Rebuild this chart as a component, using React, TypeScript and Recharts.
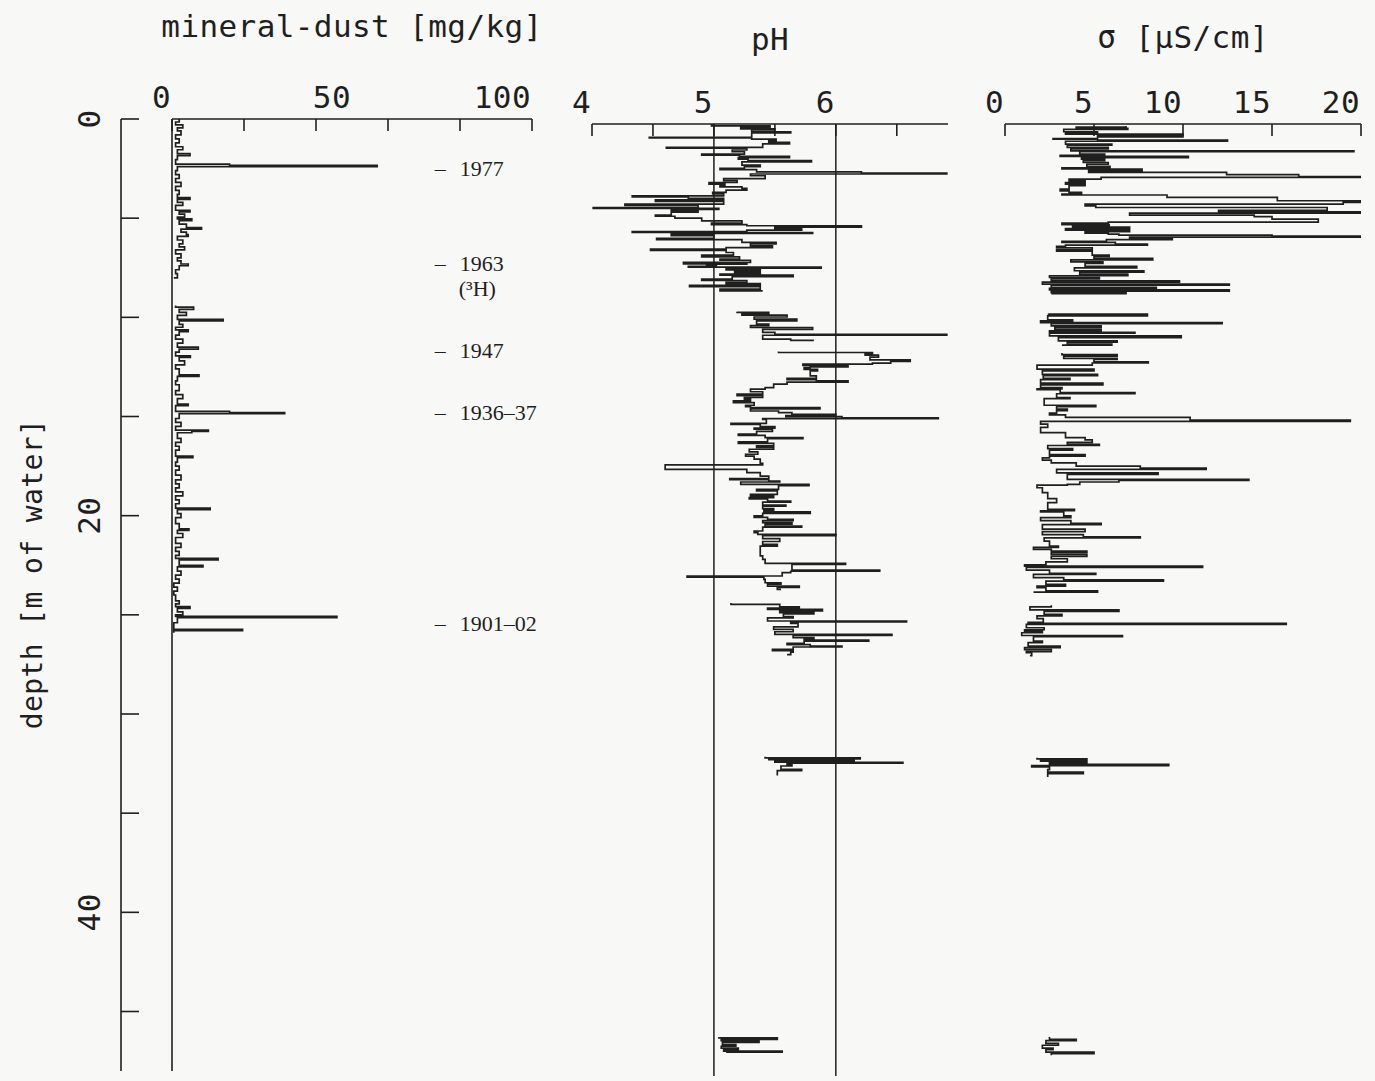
import React from "react";
import {
  LineChart,
  Line,
  XAxis,
  YAxis,
  ReferenceLine,
  ReferenceDot,
} from "recharts";

// [depth in m of water, value]; null marks a stretch of core with no samples
type Sample = [number, number | null];

const dustProfile: Sample[] = [
  [0, 2], [0.15, 1], [0.3, 3], [0.45, 1.5], [0.6, 2.5], [0.8, 1], [1.0, 2], [1.2, 1],
  [1.4, 3], [1.55, 1.5], [1.75, 5], [1.85, 1.5], [2.05, 1], [2.28, 16], [2.34, 57], [2.4, 1.5],
  [2.6, 1], [2.8, 2], [3.0, 1], [3.2, 2.5], [3.4, 1], [3.6, 2], [3.8, 1.5], [3.96, 5],
  [4.05, 1.5], [4.2, 3], [4.35, 1], [4.6, 5], [4.68, 2], [4.8, 3.5], [4.95, 1.5], [5.04, 5.5],
  [5.12, 2], [5.3, 4], [5.48, 8.2], [5.55, 2.5], [5.7, 4], [5.83, 4.5], [5.92, 1.5], [6.1, 3],
  [6.3, 2], [6.45, 3.5], [6.6, 1], [6.8, 2.5], [7.0, 1.5], [7.15, 2.5], [7.31, 4.5], [7.4, 2],
  [7.6, 1], [7.8, 1.5], [8.01, 0.5], [8.1, null],
  [9.4, 1], [9.49, 6], [9.6, 2], [9.75, 4], [9.9, 1.5], [10.1, 14.2], [10.18, 2], [10.35, 3],
  [10.5, 1], [10.63, 4.5], [10.72, 2], [10.9, 1], [11.1, 3], [11.3, 1.5], [11.5, 7.3], [11.6, 2],
  [11.75, 1], [11.94, 5.1], [12.02, 2], [12.2, 3.5], [12.4, 1], [12.6, 2], [12.9, 7.5], [12.98, 1.5],
  [13.2, 1], [13.4, 2], [13.7, 1], [13.9, 3], [14.1, 1.5], [14.38, 4.5], [14.45, 1], [14.74, 16],
  [14.8, 31.3], [14.86, 2], [15.1, 1], [15.3, 2.5], [15.5, 1], [15.69, 10.1], [15.75, 5.5], [15.82, 1.5],
  [16.1, 2.5], [16.3, 1], [16.5, 2], [16.7, 1], [17.0, 5.8], [17.08, 1.5], [17.3, 1], [17.5, 2],
  [17.7, 1], [17.96, 2.5], [18.2, 1], [18.4, 2], [18.6, 1], [18.8, 3], [19.0, 1], [19.2, 2],
  [19.4, 1], [19.62, 10.6], [19.7, 1.5], [19.9, 2.5], [20.1, 1], [20.4, 2], [20.66, 4.7], [20.74, 1.5],
  [20.9, 3], [21.1, 1], [21.4, 2.5], [21.6, 1], [21.8, 2], [22.0, 1], [22.15, 12.8], [22.23, 2],
  [22.5, 8.6], [22.58, 1.5], [22.8, 2.5], [23.0, 1], [23.2, 2], [23.4, 0.5], [23.6, 1.5], [23.8, 0.5],
  [24.0, 1], [24.3, 2], [24.45, 1], [24.59, 5], [24.67, 1.5], [24.85, 3], [25.0, 1], [25.08, 45.8],
  [25.14, 1.5], [25.4, 0.5], [25.73, 19.6], [25.8, 0.5], [25.9, 0.5],
];

const phProfile: Sample[] = [
  [0.25, 5.0], [0.3, 4.98], [0.34, 5.46], [0.42, 5.22], [0.5, 5.5], [0.55, 5.31], [0.64, 5.63], [0.7, 5.31],
  [0.92, 4.47], [0.95, 5.31], [1.01, 5.51], [1.1, 5.45], [1.18, 5.62], [1.25, 5.4], [1.43, 4.61], [1.47, 5.27],
  [1.56, 5.15], [1.65, 5.25], [1.77, 4.9], [1.82, 5.21], [1.88, 5.62], [1.95, 5.2], [2.02, 5.28], [2.1, 5.8],
  [2.16, 5.23], [2.32, 5.38], [2.4, 5.25], [2.49, 5.05], [2.55, 5.35], [2.66, 6.21], [2.72, 6.91], [2.77, 5.3],
  [2.86, 5.42], [3.0, 5.08], [3.1, 5.19], [3.2, 4.96], [3.28, 5.09], [3.36, 5.05], [3.42, 5.23], [3.5, 5.27],
  [3.58, 5.1], [3.7, 4.99], [3.78, 5.08], [3.87, 4.33], [3.92, 4.79], [4.0, 5.08], [4.07, 4.52], [4.15, 5.08],
  [4.29, 4.27], [4.36, 4.87], [4.46, 4.01], [4.5, 5.04], [4.56, 4.65], [4.62, 4.87], [4.7, 4.65], [4.84, 4.52],
  [4.9, 4.68], [5.0, 4.9], [5.13, 5.23], [5.25, 4.98], [5.32, 5.27], [5.38, 6.21], [5.45, 5.5], [5.52, 5.72],
  [5.6, 5.27], [5.68, 4.33], [5.72, 5.81], [5.76, 5.0], [5.8, 4.65], [5.88, 5.0], [6.02, 4.53], [6.08, 5.23],
  [6.22, 5.51], [6.3, 5.3], [6.39, 5.48], [6.48, 5.1], [6.56, 4.48], [6.62, 5.1], [6.73, 5.16], [6.86, 4.9],
  [6.95, 5.21], [7.06, 5.05], [7.12, 5.3], [7.23, 4.75], [7.3, 5.27], [7.32, 4.94], [7.38, 5.02], [7.43, 4.79],
  [7.47, 5.88], [7.52, 5.1], [7.6, 5.38], [7.68, 5.17], [7.74, 5.38], [7.82, 5.05], [7.87, 5.65], [7.95, 5.15],
  [8.07, 4.9], [8.14, 5.27], [8.24, 5.1], [8.3, 5.38], [8.38, 4.8], [8.45, 5.38], [8.58, 5.05], [8.66, 5.4],
  [8.72, null],
  [9.72, 5.19], [9.75, 5.45], [9.82, 5.23], [9.89, 5.6], [9.98, 5.33], [10.09, 5.68], [10.18, 5.35], [10.34, 5.45],
  [10.42, 5.3], [10.51, 5.81], [10.6, 5.4], [10.76, 5.5], [10.85, 6.91], [10.9, 5.4], [11.1, 5.63], [11.16, 5.82],
  [11.22, null],
  [11.72, 5.53], [11.77, 6.3], [11.82, 6.24], [11.9, 6.35], [12.0, 6.28], [12.14, 6.61], [12.22, 6.45], [12.31, 6.3],
  [12.36, 5.73], [12.42, 6.1], [12.5, 5.79], [12.53, 5.74], [12.62, 5.85], [12.7, 5.79], [12.95, 5.84], [13.08, 5.6],
  [13.14, 5.84], [13.2, 6.1], [13.26, 5.6], [13.37, 5.49], [13.54, 5.42], [13.62, 5.3], [13.75, 5.4], [13.87, 5.19],
  [13.95, 5.4], [14.04, 5.25], [14.12, 5.3], [14.21, 5.16], [14.3, 5.33], [14.43, 5.26], [14.5, 5.3], [14.55, 5.87],
  [14.62, 5.3], [14.72, 5.53], [14.8, 5.64], [14.89, 6.0], [14.95, 5.59], [15.0, 6.05], [15.06, 6.84], [15.1, 5.4],
  [15.14, 5.43], [15.34, 5.14], [15.4, 5.38], [15.51, 5.5], [15.58, 5.33], [15.64, 5.48], [15.75, 5.35], [15.89, 5.2],
  [15.95, 5.42], [16.06, 5.73], [16.12, 5.44], [16.28, 5.2], [16.35, 5.49], [16.48, 5.35], [16.55, 5.49], [16.65, 5.29],
  [16.78, 5.36], [16.9, 5.26], [17.0, 5.33], [17.15, 5.38], [17.36, 5.4], [17.44, 4.6], [17.66, 5.27], [17.83, 5.38],
  [18.0, 5.45], [18.13, 5.13], [18.18, 5.45], [18.25, 5.54], [18.3, 5.22], [18.42, 5.78], [18.48, 5.53], [18.67, 5.35],
  [18.75, 5.52], [18.92, 5.3], [19.0, 5.49], [19.09, 5.29], [19.15, 5.44], [19.26, 5.63], [19.32, 5.4], [19.47, 5.59],
  [19.52, 5.4], [19.64, 5.49], [19.72, 5.41], [19.81, 5.79], [19.88, 5.4], [20.01, 5.33], [20.08, 5.44], [20.18, 5.65],
  [20.25, 5.4], [20.35, 5.64], [20.42, 5.42], [20.52, 5.72], [20.58, 5.4], [20.77, 5.33], [20.85, 5.36], [20.94, 6.0],
  [21.0, 5.4], [21.16, 5.54], [21.3, 5.4], [21.45, 5.52], [21.53, 5.38], [21.86, 5.38], [22.03, 5.4], [22.2, 5.42],
  [22.4, 6.08], [22.46, 5.64], [22.74, 6.36], [22.8, 5.63], [22.87, 5.56], [23.04, 4.78], [23.1, 5.41], [23.21, 5.42],
  [23.38, 5.55], [23.45, 5.44], [23.55, 5.7], [23.62, 5.52], [23.71, 5.55], [23.78, null],
  [24.4, 5.14], [24.47, 5.54], [24.59, 5.7], [24.66, 5.44], [24.72, 5.89], [24.8, 5.54], [24.89, 5.82], [24.95, 5.57],
  [25.09, 5.65], [25.15, 5.44], [25.31, 6.58], [25.36, 5.63], [25.43, 5.69], [25.6, 5.49], [25.73, 5.65], [25.85, 5.5],
  [25.98, 6.46], [26.03, 5.65], [26.15, 5.82], [26.2, 5.74], [26.27, 6.27], [26.33, 5.74], [26.44, 5.6], [26.5, 5.79],
  [26.57, 6.05], [26.62, 5.65], [26.74, 5.48], [26.8, 5.65], [26.88, 5.63], [27.0, 5.6], [27.05, null],
  [32.15, 5.42], [32.21, 6.2], [32.26, 5.45], [32.3, 6.15], [32.36, 5.5], [32.43, 6.55], [32.48, 5.6], [32.54, 5.64],
  [32.62, 5.55], [32.79, 5.72], [32.85, 5.52], [33.1, 5.52], [33.15, null],
  [46.3, 5.04], [46.33, 5.52], [46.4, 5.06], [46.47, 5.37], [46.55, 5.07], [46.67, 5.18], [46.75, 5.06], [46.84, 5.2],
  [46.92, 5.08], [47.0, 5.56], [47.05, 5.1],
];

const sigmaProfile: Sample[] = [
  [0.35, 6.8], [0.4, 4.0], [0.47, 6.9], [0.52, 3.3], [0.64, 5.2], [0.7, 3.4], [0.76, 10.0], [0.8, 5.2],
  [0.84, 10.0], [0.9, 5.2], [0.98, 2.7], [1.02, 5.2], [1.06, 12.5], [1.12, 3.4], [1.26, 6.0], [1.32, 3.5],
  [1.43, 5.8], [1.5, 3.7], [1.6, 19.6], [1.65, 4.2], [1.77, 5.6], [1.83, 3.1], [1.88, 10.3], [1.95, 4.3],
  [2.02, 5.6], [2.1, 4.4], [2.19, 5.8], [2.28, 4.6], [2.39, 5.9], [2.46, 3.2], [2.52, 7.7], [2.6, 4.7],
  [2.69, 12.45], [2.8, 16.5], [2.9, 20], [2.94, 5.4], [3.03, 3.6], [3.12, 4.5], [3.2, 3.4], [3.28, 4.5],
  [3.36, 3.6], [3.53, 3.1], [3.62, 3.6], [3.7, 4.3], [3.78, 3.2], [3.83, 9.1], [3.95, 15.3], [4.12, 20],
  [4.2, 19.0], [4.29, 4.5], [4.38, 5.1], [4.46, 18.1], [4.6, 12.0], [4.68, 20], [4.74, 7.0], [4.84, 14.0],
  [4.92, 15.0], [5.05, 17.6], [5.2, 5.8], [5.25, 3.2], [5.32, 5.85], [5.38, 3.8], [5.45, 7.0], [5.52, 3.4],
  [5.6, 7.0], [5.68, 4.5], [5.75, 5.8], [5.8, 6.4], [5.85, 15.0], [5.9, 20], [5.95, 7.0], [6.02, 9.4],
  [6.08, 5.7], [6.17, 3.2], [6.22, 6.2], [6.31, 8.0], [6.36, 3.4], [6.42, 2.9], [6.5, 4.9], [6.59, 2.9],
  [6.66, 4.9], [6.86, 5.85], [6.93, 5.0], [7.03, 8.3], [7.1, 3.7], [7.2, 5.5], [7.28, 4.5], [7.43, 7.4],
  [7.5, 3.9], [7.65, 7.8], [7.72, 4.2], [7.82, 6.9], [7.9, 2.5], [7.99, 5.3], [8.06, 2.6], [8.16, 9.8],
  [8.22, 2.1], [8.32, 12.6], [8.38, 2.6], [8.49, 8.5], [8.54, 2.5], [8.61, 12.6], [8.68, 2.6], [8.75, 6.8],
  [8.8, 2.6], [8.85, null],
  [9.8, 2.45], [9.84, 8.0], [9.92, 2.4], [10.12, 3.8], [10.18, 2.0], [10.26, 12.2], [10.32, 2.6], [10.43, 5.4],
  [10.5, 2.8], [10.6, 5.4], [10.68, 2.5], [10.76, 7.3], [10.8, 2.5], [10.93, 9.9], [11.02, 3.0], [11.18, 6.3],
  [11.25, 3.5], [11.35, 6.0], [11.4, 3.2], [11.45, null],
  [11.8, 3.2], [11.88, 6.3], [11.95, 3.3], [12.07, 6.3], [12.12, 5.0], [12.24, 8.05], [12.3, 4.9], [12.41, 1.8],
  [12.61, 5.0], [12.7, 2.1], [12.87, 5.2], [12.94, 2.15], [13.08, 3.65], [13.14, 2.0], [13.32, 5.5], [13.4, 2.0],
  [13.54, 3.2], [13.6, 1.8], [13.65, 3.1], [13.79, 7.3], [13.85, 2.9], [14.04, 3.65], [14.1, 2.2], [14.43, 5.1],
  [14.5, 2.9], [14.63, 3.5], [14.7, 2.9], [14.83, 2.5], [14.92, 3.4], [15.04, 10.4], [15.18, 19.4], [15.24, 2.0],
  [15.38, 2.4], [15.55, 2.0], [15.81, 3.4], [16.06, 4.5], [16.18, 4.9], [16.3, 3.5], [16.4, 5.3], [16.46, 2.4],
  [16.62, 3.8], [16.7, 2.5], [16.92, 4.5], [17.0, 2.5], [17.08, 2.1], [17.2, 2.6], [17.34, 4.0], [17.5, 7.6],
  [17.6, 11.3], [17.66, 2.9], [17.84, 8.6], [17.92, 3.5], [18.17, 13.7], [18.22, 6.4], [18.3, 4.2], [18.42, 3.5],
  [18.46, 1.8], [18.59, 2.1], [18.84, 2.4], [19.14, 2.9], [19.34, 2.4], [19.68, 3.9], [19.75, 2.0], [19.81, 3.3],
  [20.01, 3.7], [20.1, 2.0], [20.25, 3.7], [20.38, 5.4], [20.45, 2.1], [20.68, 4.5], [20.8, 2.1], [20.95, 4.4],
  [21.06, 7.6], [21.12, 2.2], [21.28, 2.5], [21.53, 3.0], [21.6, 1.6], [21.7, 2.6], [21.78, 4.6], [21.85, 2.6],
  [21.95, 4.6], [22.05, 2.6], [22.17, 3.5], [22.33, 2.3], [22.48, 1.1], [22.54, 11.1], [22.6, 1.2], [22.74, 2.5],
  [22.91, 5.1], [22.96, 1.6], [23.12, 3.3], [23.24, 8.9], [23.3, 2.3], [23.46, 3.4], [23.55, 1.8], [23.63, 2.3],
  [23.79, 5.2], [23.85, 1.6], [23.9, null],
  [24.52, 2.6], [24.6, 1.4], [24.75, 6.4], [24.82, 2.2], [24.97, 3.2], [25.05, 1.8], [25.19, 2.15], [25.38, 1.3],
  [25.43, 15.8], [25.48, 1.2], [25.65, 2.2], [25.75, 1.1], [25.82, 2.1], [25.9, 0.94], [26.04, 6.6], [26.1, 1.6],
  [26.32, 2.1], [26.4, 1.3], [26.58, 3.1], [26.65, 1.1], [26.75, 2.6], [26.85, 1.2], [26.91, 1.5], [27.05, 1.4],
  [27.1, null],
  [32.2, 1.8], [32.26, 4.6], [32.32, 2.0], [32.38, 4.6], [32.45, 2.5], [32.54, 9.2], [32.6, 1.5], [32.66, 2.5],
  [32.8, 2.4], [32.93, 4.4], [33.0, 2.4], [33.17, 2.4], [33.2, null],
  [46.28, 2.5], [46.4, 4.0], [46.47, 2.3], [46.6, 3.0], [46.7, 2.1], [46.84, 2.7], [46.92, 2.3], [47.05, 5.0],
  [47.12, 2.6], [47.2, 2.6],
];

const depthTicks = [0, 5, 10, 15, 20, 25, 30, 35, 40, 45];
const depthLabels = [0, 20, 40];

const dustTicks = [0, 20, 40, 50, 60, 80, 100];
const dustMarks = [0, 20, 40, 60, 80, 100];
const dustLabels = [0, 50, 100];

const phTicks = [4, 4.5, 5, 5.5, 6, 6.5];
const phLabels = [4, 5, 6];
const phGuides = [5, 6];

const sigmaTicks = [0, 5, 10, 15, 20];

const datingDepth = [2.52, 7.32, 11.7, 14.83, 25.48];
const datingYear = ["1977", "1963", "1947", "1936–37", "1901–02"];
const datingNote = ["", "(³H)", "", "", ""];

const INK = "#1f1f1f";
const AXIS_FONT = '"DejaVu Sans Mono", monospace';
const DATE_FONT = '"Liberation Serif", serif';
const PAPER = "#f8f8f6";

const H = 1081;
const PLOT_H = 952; // 48 m of water
// the pH and sigma frames sit a few pixels lower on the page than the dust frame
const dustDepthDomain: [number, number] = [0, 48];
const shiftedDepthDomain: [number, number] = [0.25, 48.25];

type Row = { depth: number; value: number };

// cut a profile into unbroken runs so that gaps stay empty
const toRuns = (s: Sample[]): Row[][] => {
  const runs: Row[][] = [];
  let cur: Row[] = [];
  for (const [depth, value] of s) {
    if (value === null) {
      if (cur.length) runs.push(cur);
      cur = [];
    } else {
      cur.push({ depth, value });
    }
  }
  if (cur.length) runs.push(cur);
  return runs;
};

function TopTick(props: any) {
  const { x, y, payload, marks, labels } = props;
  const v = payload.value;
  return (
    <g>
      {marks.includes(v) && (
        <line x1={x} y1={y} x2={x} y2={y + 12} stroke={INK} strokeWidth={1.6} />
      )}
      {labels.includes(v) && (
        <text
          x={x - 1}
          y={y - 11}
          textAnchor="end"
          fontFamily={AXIS_FONT}
          fontSize={31}
          letterSpacing={0.4}
          fill={INK}
        >
          {v}
        </text>
      )}
    </g>
  );
}

function DepthTick(props: any) {
  const { x, y, payload } = props;
  const v = payload.value;
  return (
    <g>
      <line x1={x} y1={y} x2={x + 18} y2={y} stroke={INK} strokeWidth={1.6} />
      {depthLabels.includes(v) && (
        <text
          x={x - 21}
          y={y}
          transform={`rotate(-90 ${x - 21} ${y})`}
          textAnchor="middle"
          fontFamily={AXIS_FONT}
          fontSize={31}
          letterSpacing={0.4}
          fill={INK}
        >
          {v}
        </text>
      )}
    </g>
  );
}

const titleLabel = (text: string, baseline: number) => (props: any) => {
  const vb = props.viewBox;
  return (
    <text
      x={vb.x + vb.width / 2}
      y={baseline}
      textAnchor="middle"
      fontFamily={AXIS_FONT}
      fontSize={31}
      letterSpacing={0.4}
      fill={INK}
    >
      {text}
    </text>
  );
};

const depthTitle = (props: any) => {
  const vb = props.viewBox;
  const cx = vb.x + 42;
  const cy = vb.y + vb.height / 2 - 21;
  return (
    <text
      x={cx}
      y={cy}
      transform={`rotate(-90 ${cx} ${cy})`}
      textAnchor="middle"
      fontFamily={AXIS_FONT}
      fontSize={28}
      letterSpacing={0.4}
      fill={INK}
    >
      depth [m of water]
    </text>
  );
};

const datingLabel = (year: string, note: string) => (props: any) => {
  const { x, y } = props.viewBox;
  return (
    <text fontFamily={DATE_FONT} fontSize={22} fill={INK}>
      <tspan x={x} y={y + 7}>–</tspan>
      <tspan x={x + 25} y={y + 7}>{year}</tspan>
      {note && (
        <tspan x={x + 24} y={y + 32}>{note}</tspan>
      )}
    </text>
  );
};

const axisStroke = { stroke: INK, strokeWidth: 1.6 };

const profileLines = (runs: Row[][], axisIds: { xAxisId?: string; yAxisId?: string }) =>
  runs.map((run, i) => (
    <Line
      key={`run-${i}`}
      {...axisIds}
      data={run}
      dataKey="value"
      type="stepBefore"
      stroke={INK}
      strokeWidth={1.7}
      dot={false}
      activeDot={false}
      isAnimationActive={false}
    />
  ));

function DustPanel() {
  const top = 119;
  return (
    <LineChart
      layout="vertical"
      width={600}
      height={H}
      margin={{ top: 0, right: 68, bottom: H - top - PLOT_H, left: 0 }}
    >
      <XAxis
        xAxisId="dust"
        type="number"
        orientation="top"
        domain={[0, 100]}
        ticks={dustTicks}
        interval={0}
        height={top}
        tickSize={0}
        tickMargin={0}
        tickLine={false}
        axisLine={axisStroke}
        tick={(p: any) => <TopTick {...p} marks={dustMarks} labels={dustLabels} />}
        label={titleLabel("mineral-dust [mg/kg]", 37)}
        allowDataOverflow
      />
      <YAxis
        yAxisId="base"
        type="number"
        dataKey="depth"
        domain={dustDepthDomain}
        width={51}
        tick={false}
        tickLine={false}
        axisLine={axisStroke}
        allowDataOverflow
      />
      <YAxis
        yAxisId="depth"
        type="number"
        dataKey="depth"
        domain={dustDepthDomain}
        ticks={depthTicks}
        interval={0}
        width={121}
        tickSize={0}
        tickMargin={0}
        tickLine={false}
        axisLine={axisStroke}
        tick={(p: any) => <DepthTick {...p} />}
        label={depthTitle}
        allowDataOverflow
      />
      {datingDepth.map((d, i) => (
        <ReferenceDot
          key={datingYear[i]}
          xAxisId="dust"
          yAxisId="depth"
          x={73}
          y={d}
          r={0}
          fill="none"
          stroke="none"
          ifOverflow="visible"
          label={datingLabel(datingYear[i], datingNote[i])}
        />
      ))}
      {profileLines(toRuns(dustProfile), { xAxisId: "dust", yAxisId: "depth" })}
    </LineChart>
  );
}

function PhPanel() {
  const top = 124;
  return (
    <LineChart
      layout="vertical"
      width={420}
      height={H}
      margin={{ top: 0, right: 32, bottom: H - top - PLOT_H, left: 32 }}
    >
      <XAxis
        type="number"
        orientation="top"
        domain={[4, 6.92]}
        ticks={phTicks}
        interval={0}
        height={top}
        tickSize={0}
        tickMargin={0}
        tickLine={false}
        axisLine={axisStroke}
        tick={(p: any) => <TopTick {...p} marks={phTicks} labels={phLabels} />}
        label={titleLabel("pH", 50)}
        allowDataOverflow
      />
      <YAxis
        type="number"
        dataKey="depth"
        domain={shiftedDepthDomain}
        width={0}
        hide
        allowDataOverflow
      />
      {phGuides.map((g) => (
        <ReferenceLine key={g} x={g} stroke={INK} strokeWidth={1.5} ifOverflow="visible" />
      ))}
      {profileLines(toRuns(phProfile), {})}
    </LineChart>
  );
}

function SigmaPanel() {
  const top = 124;
  return (
    <LineChart
      layout="vertical"
      width={405}
      height={H}
      margin={{ top: 0, right: 14, bottom: H - top - PLOT_H, left: 35 }}
    >
      <XAxis
        type="number"
        orientation="top"
        domain={[0, 20]}
        ticks={sigmaTicks}
        interval={0}
        height={top}
        tickSize={0}
        tickMargin={0}
        tickLine={false}
        axisLine={axisStroke}
        tick={(p: any) => <TopTick {...p} marks={sigmaTicks} labels={sigmaTicks} />}
        label={titleLabel("σ [µS/cm]", 48)}
        allowDataOverflow
      />
      <YAxis
        type="number"
        dataKey="depth"
        domain={shiftedDepthDomain}
        width={0}
        tick={false}
        tickLine={false}
        axisLine={axisStroke}
        allowDataOverflow
      />
      {profileLines(toRuns(sigmaProfile), {})}
    </LineChart>
  );
}

export default function App() {
  return (
    <div
      style={{
        position: "absolute",
        left: 0,
        top: 0,
        width: 1375,
        height: H,
        background: PAPER,
        overflow: "hidden",
      }}
    >
      <div style={{ position: "absolute", left: 0, top: 0 }}>
        <DustPanel />
      </div>
      <div style={{ position: "absolute", left: 560, top: 0 }}>
        <PhPanel />
      </div>
      <div style={{ position: "absolute", left: 970, top: 0 }}>
        <SigmaPanel />
      </div>
    </div>
  );
}
